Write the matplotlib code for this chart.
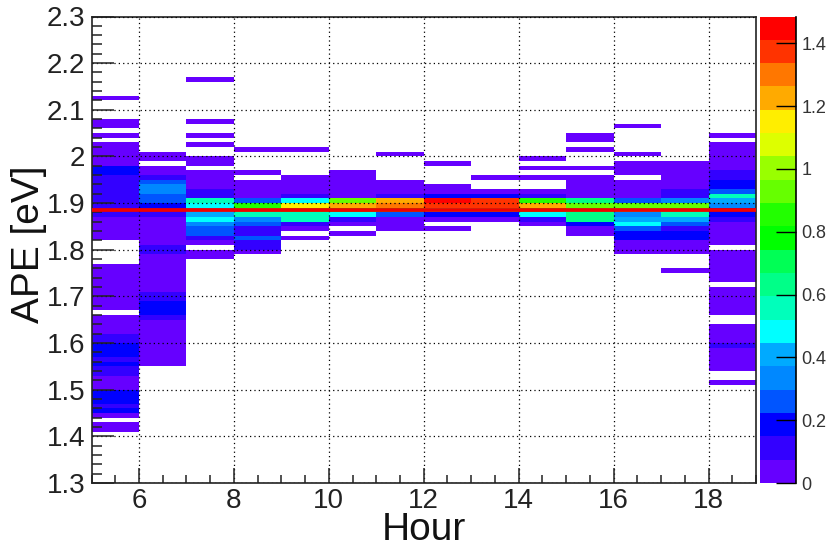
import numpy as np
import matplotlib
matplotlib.use('Agg')
import matplotlib.pyplot as plt
from matplotlib.colors import ListedColormap, BoundaryNorm
from matplotlib.ticker import MultipleLocator

plt.rcParams['font.family'] = ['Liberation Sans', 'DejaVu Sans']

# bins of each hour: (lower APE, upper APE, value), empty bins are left out
hour_05 = [(2.12, 2.13, .04), (2.06, 2.08, .04), (2.04, 2.05, .04), (1.98, 2.03, .04), (1.96, 1.98, .19),
           (1.87, 1.96, .11), (1.82, 1.87, .04), (1.67, 1.77, .04), (1.62, 1.66, .04), (1.60, 1.62, .11),
           (1.57, 1.60, .19), (1.56, 1.57, .11), (1.55, 1.56, .19), (1.53, 1.55, .11), (1.50, 1.53, .04),
           (1.47, 1.50, .19), (1.46, 1.47, .11), (1.45, 1.46, .19), (1.44, 1.45, .04), (1.41, 1.43, .04)]
hour_06 = [(1.99, 2.01, .04), (1.96, 1.98, .04), (1.95, 1.96, .11), (1.94, 1.95, .26), (1.92, 1.94, .34),
           (1.90, 1.92, .26), (1.89, 1.90, .19), (1.87, 1.89, .11), (1.81, 1.87, .04), (1.79, 1.81, .11),
           (1.71, 1.79, .04), (1.69, 1.71, .11), (1.66, 1.69, .19), (1.65, 1.66, .11), (1.55, 1.65, .04)]
hour_07 = [(2.16, 2.17, .04), (2.07, 2.08, .04), (2.04, 2.05, .04), (2.02, 2.03, .04), (1.98, 2.00, .04),
           (1.93, 1.97, .04), (1.91, 1.93, .11), (1.90, 1.91, .56), (1.89, 1.90, .49), (1.87, 1.89, .41),
           (1.86, 1.87, .49), (1.85, 1.86, .34), (1.83, 1.85, .26), (1.82, 1.83, .11), (1.81, 1.82, .04),
           (1.78, 1.80, .04)]
hour_08 = [(2.01, 2.02, .04), (1.96, 1.97, .04), (1.91, 1.95, .04), (1.90, 1.91, .26), (1.89, 1.90, .86),
           (1.88, 1.89, .71), (1.87, 1.88, .56), (1.86, 1.87, .34), (1.85, 1.86, .26), (1.83, 1.85, .11),
           (1.82, 1.83, .26), (1.80, 1.82, .11), (1.79, 1.80, .04)]
hour_09 = [(2.01, 2.02, .04), (1.92, 1.96, .04), (1.91, 1.92, .11), (1.90, 1.91, .49), (1.89, 1.90, 1.16),
           (1.88, 1.89, .86), (1.86, 1.88, .56), (1.85, 1.86, .11), (1.84, 1.85, .04), (1.82, 1.83, .04)]
hour_10 = [(1.91, 1.97, .04), (1.90, 1.91, .94), (1.89, 1.90, 1.24), (1.88, 1.89, .79), (1.87, 1.88, .49),
           (1.86, 1.87, .11), (1.85, 1.86, .04), (1.83, 1.84, .04)]
hour_11 = [(2.00, 2.01, .04), (1.92, 1.95, .04), (1.91, 1.92, .11), (1.90, 1.91, 1.24), (1.89, 1.90, 1.31),
           (1.88, 1.89, .79), (1.87, 1.88, .26), (1.84, 1.87, .04)]
hour_12 = [(1.98, 1.99, .04), (1.92, 1.94, .04), (1.91, 1.92, .19), (1.90, 1.91, 1.46), (1.89, 1.90, 1.39),
           (1.88, 1.89, .64), (1.87, 1.88, .19), (1.86, 1.87, .04), (1.84, 1.85, .04)]
hour_13 = [(1.95, 1.96, .04), (1.92, 1.93, .04), (1.91, 1.92, .19), (1.90, 1.91, 1.39), (1.89, 1.90, 1.39),
           (1.88, 1.89, .71), (1.87, 1.88, .19), (1.86, 1.87, .04)]
hour_14 = [(1.99, 2.00, .04), (1.97, 1.98, .04), (1.95, 1.96, .04), (1.92, 1.93, .04), (1.91, 1.92, .11),
           (1.90, 1.91, .86), (1.89, 1.90, 1.24), (1.88, 1.89, .79), (1.87, 1.88, .49), (1.86, 1.87, .11),
           (1.85, 1.86, .04)]
hour_15 = [(2.03, 2.05, .04), (2.01, 2.02, .04), (1.97, 1.98, .04), (1.91, 1.96, .04), (1.90, 1.91, .64),
           (1.89, 1.90, .94), (1.88, 1.89, .71), (1.86, 1.88, .64), (1.85, 1.86, .19), (1.83, 1.85, .04)]
hour_16 = [(2.06, 2.07, .04), (2.00, 2.01, .04), (1.96, 1.99, .04), (1.91, 1.95, .04), (1.90, 1.91, .26),
           (1.89, 1.90, .94), (1.88, 1.89, .71), (1.87, 1.88, .34), (1.86, 1.87, .41), (1.85, 1.86, .49),
           (1.84, 1.85, .26), (1.82, 1.84, .19), (1.79, 1.82, .04)]
hour_17 = [(1.93, 1.99, .04), (1.91, 1.93, .11), (1.90, 1.91, .34), (1.89, 1.90, .94), (1.88, 1.89, .71),
           (1.87, 1.88, .56), (1.86, 1.87, .41), (1.85, 1.86, .26), (1.84, 1.85, .11), (1.82, 1.84, .19),
           (1.79, 1.82, .04), (1.75, 1.76, .04)]
hour_18 = [(2.04, 2.05, .04), (1.97, 2.03, .04), (1.95, 1.97, .11), (1.93, 1.95, .19), (1.92, 1.93, .26),
           (1.91, 1.92, .56), (1.90, 1.91, .41), (1.89, 1.90, .34), (1.87, 1.89, .19), (1.86, 1.87, .11),
           (1.81, 1.86, .04), (1.73, 1.80, .04), (1.66, 1.72, .04), (1.60, 1.64, .04), (1.59, 1.60, .11),
           (1.54, 1.59, .04), (1.51, 1.52, .04)]
hours = [hour_05, hour_06, hour_07, hour_08, hour_09, hour_10, hour_11,
         hour_12, hour_13, hour_14, hour_15, hour_16, hour_17, hour_18]

hour_edges = np.arange(5, 20)
ape_edges = np.linspace(1.3, 2.3, 101)
peak_ape = 1.885

# 20 contour levels of the palette
levels = np.linspace(0, 1.485, 21)
palette = ['#6600ff', '#3300ff', '#0000ff', '#0055ff', '#0088ff', '#00aaff', '#00ffff', '#00ffbb', '#00ff88', '#00ff55',
           '#00ff00', '#22ff00', '#66ff00', '#99ff00', '#ddff00', '#ffee00', '#ffaa00', '#ff7700', '#ff3300', '#ff0000']
cbar_ticks = [0, 0.2, 0.4, 0.6, 0.8, 1, 1.2, 1.4]
cbar_labels = ['0', '0.2', '0.4', '0.6', '0.8', '1', '1.2', '1.4']

H = np.full((100, 14), np.nan)
for col, runs in enumerate(hours):
    for low, high, val in runs:
        H[int(round((low - 1.3) * 100)):int(round((high - 1.3) * 100)), col] = val

W, H_px = 830, 549
fig = plt.figure(figsize=(W / 100, H_px / 100), dpi=100)
ax = fig.add_axes([91.5 / W, 1 - 483 / H_px, 664.5 / W, 466.5 / H_px])
cax = fig.add_axes([760 / W, 1 - 483 / H_px, 36 / W, 466.5 / H_px])

cmap = ListedColormap(palette)
norm = BoundaryNorm(levels, cmap.N)
mesh = ax.pcolormesh(hour_edges, ape_edges, np.ma.masked_invalid(H), cmap=cmap, norm=norm, zorder=1)

ax.set_xlim(5, 19)
ax.set_ylim(1.3, 2.3)
ax.xaxis.set_major_locator(MultipleLocator(2))
ax.xaxis.set_minor_locator(MultipleLocator(0.5))
ax.yaxis.set_major_locator(MultipleLocator(0.1))
ax.yaxis.set_minor_locator(MultipleLocator(0.02))
ax.set_yticks(np.arange(1.3, 2.31, 0.1))
ax.set_yticklabels(['1.3', '1.4', '1.5', '1.6', '1.7', '1.8', '1.9', '2', '2.1', '2.2', '2.3'])
ax.tick_params(axis='x', which='major', direction='in', length=11, width=1.1, labelsize=20, pad=3.5, color='#222222', labelcolor='#222222')
ax.tick_params(axis='x', which='minor', direction='in', length=5.5, width=1.1, color='#222222')
ax.tick_params(axis='y', which='major', direction='in', length=16, width=1.1, labelsize=20, pad=4.5, color='#222222', labelcolor='#222222')
ax.tick_params(axis='y', which='minor', direction='in', length=7.5, width=1.1, color='#222222')
ax.set_axisbelow(False)
ax.grid(True, which='major', color='black', linestyle=(0, (1, 2.5)), linewidth=0.9, zorder=2)
for s in ax.spines.values():
    s.set_linewidth(1.2)
    s.set_color('#222222')

ax.axhline(peak_ape, color='#f00000', linewidth=2.7, zorder=3)

ax.set_xlabel('Hour', fontsize=28, color='#111111')
ax.xaxis.set_label_coords(0.5, -0.063)
ax.set_ylabel('APE [eV]', fontsize=28, color='#111111')
ax.yaxis.set_label_coords(-0.067, 0.512)

cb = fig.colorbar(mesh, cax=cax, ticks=cbar_ticks, spacing='proportional', drawedges=False)
cb.ax.set_yticklabels(cbar_labels)
cb.minorticks_off()
cb.outline.set_visible(False)
cax.spines['right'].set_visible(True)
cax.spines['right'].set_linewidth(1.2)
cax.tick_params(axis='y', direction='in', length=14.5, width=1.0, labelsize=13, pad=4, labelcolor='#333333')

fig.savefig('out.png', dpi=100)
